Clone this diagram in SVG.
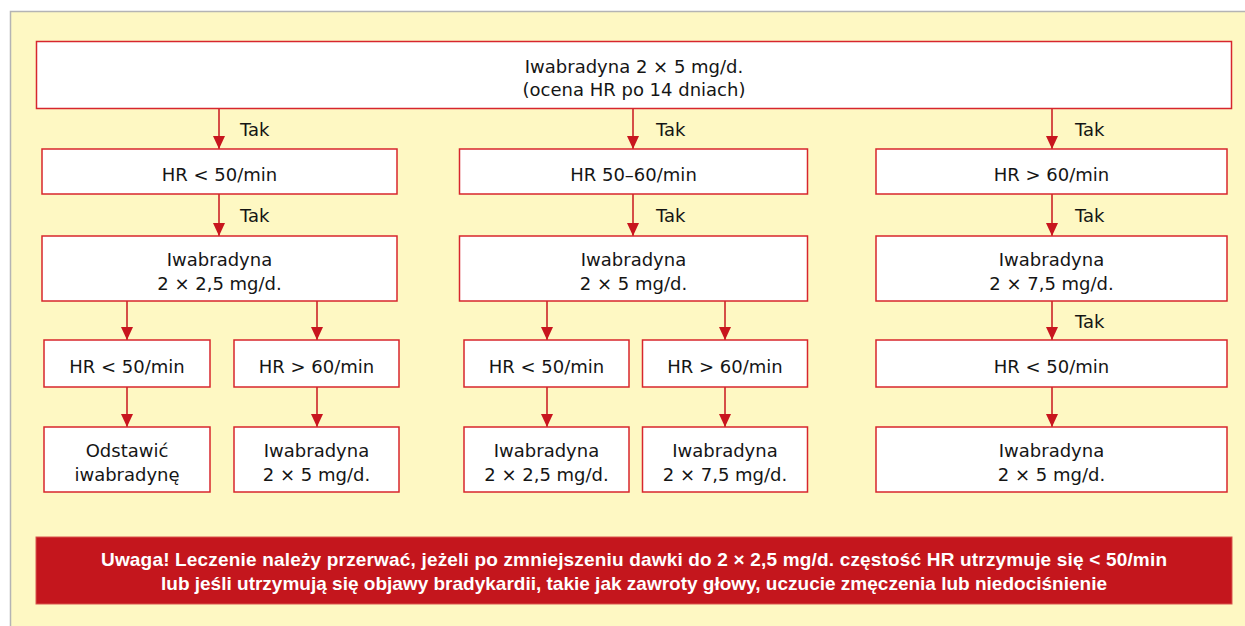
<svg xmlns="http://www.w3.org/2000/svg" width="1245" height="626" viewBox="0 0 1245 626">
<defs>
<style>
.box{fill:#ffffff;stroke:#d7262d;stroke-width:1.5}
.t{font-family:"DejaVu Sans","Liberation Sans",sans-serif;font-size:18px;fill:#151515;text-anchor:middle}
.tak{font-family:"DejaVu Sans","Liberation Sans",sans-serif;font-size:18px;fill:#151515}
.warn{font-family:"Liberation Sans","DejaVu Sans",sans-serif;font-size:19px;font-weight:bold;fill:#ffffff;text-anchor:middle}
.ln{stroke:#c8161e;stroke-width:1.5;fill:none;marker-end:url(#ah)}
</style>
<marker id="ah" viewBox="0 0 13 12" refX="13" refY="6" markerWidth="13" markerHeight="12" markerUnits="userSpaceOnUse" orient="auto">
<path d="M0,0 L13,6 L0,12 Z" fill="#c8161e"/>
</marker>
</defs>
<rect x="0" y="0" width="1245" height="626" fill="#ffffff"/>
<rect x="10.5" y="11.5" width="1250" height="630" fill="#fef8c3" stroke="#b4b4b4" stroke-width="1.5"/>

<g id="connectors">
<line class="ln" x1="219" y1="108" x2="219" y2="149"/>
<line class="ln" x1="633" y1="108" x2="633" y2="149"/>
<line class="ln" x1="1052" y1="108" x2="1052" y2="149"/>
<line class="ln" x1="219" y1="194" x2="219" y2="236"/>
<line class="ln" x1="633" y1="194" x2="633" y2="236"/>
<line class="ln" x1="1052" y1="194" x2="1052" y2="236"/>
<line class="ln" x1="127" y1="301" x2="127" y2="340"/>
<line class="ln" x1="317" y1="301" x2="317" y2="340"/>
<line class="ln" x1="547" y1="301" x2="547" y2="340"/>
<line class="ln" x1="725" y1="301" x2="725" y2="340"/>
<line class="ln" x1="1052" y1="301" x2="1052" y2="340"/>
<line class="ln" x1="127" y1="387" x2="127" y2="427"/>
<line class="ln" x1="317" y1="387" x2="317" y2="427"/>
<line class="ln" x1="547" y1="387" x2="547" y2="427"/>
<line class="ln" x1="725" y1="387" x2="725" y2="427"/>
<line class="ln" x1="1052" y1="387" x2="1052" y2="427"/>
<text class="tak" x="240" y="136">Tak</text>
<text class="tak" x="656" y="136">Tak</text>
<text class="tak" x="1075" y="136">Tak</text>
<text class="tak" x="240" y="222">Tak</text>
<text class="tak" x="656" y="222">Tak</text>
<text class="tak" x="1075" y="222">Tak</text>
<text class="tak" x="1075" y="328">Tak</text>
</g>

<g id="start">
<rect class="box" x="36.5" y="41.5" width="1195" height="67"/>
<text class="t" x="634" y="73">Iwabradyna 2 × 5 mg/d.</text>
<text class="t" x="634" y="96">(ocena HR po 14 dniach)</text>
</g>

<g id="hr-low">
<rect class="box" x="42" y="149" width="355" height="45"/>
<text class="t" x="219.5" y="181">HR &lt; 50/min</text>
</g>
<g id="hr-mid">
<rect class="box" x="459.5" y="149" width="348" height="45"/>
<text class="t" x="633.5" y="181">HR 50–60/min</text>
</g>
<g id="hr-high">
<rect class="box" x="876" y="149" width="351" height="45"/>
<text class="t" x="1051.5" y="181">HR &gt; 60/min</text>
</g>

<g id="dose-low">
<rect class="box" x="42" y="236" width="355" height="65"/>
<text class="t" x="219.5" y="266">Iwabradyna</text>
<text class="t" x="219.5" y="290">2 × 2,5 mg/d.</text>
</g>
<g id="dose-mid">
<rect class="box" x="459.5" y="236" width="348" height="65"/>
<text class="t" x="633.5" y="266">Iwabradyna</text>
<text class="t" x="633.5" y="290">2 × 5 mg/d.</text>
</g>
<g id="dose-high">
<rect class="box" x="876" y="236" width="351" height="65"/>
<text class="t" x="1051.5" y="266">Iwabradyna</text>
<text class="t" x="1051.5" y="290">2 × 7,5 mg/d.</text>
</g>

<g id="low-hr-low">
<rect class="box" x="44" y="340" width="166" height="47"/>
<text class="t" x="127" y="373">HR &lt; 50/min</text>
</g>
<g id="low-hr-high">
<rect class="box" x="234" y="340" width="165" height="47"/>
<text class="t" x="316.5" y="373">HR &gt; 60/min</text>
</g>
<g id="mid-hr-low">
<rect class="box" x="464" y="340" width="165" height="47"/>
<text class="t" x="546.5" y="373">HR &lt; 50/min</text>
</g>
<g id="mid-hr-high">
<rect class="box" x="642.5" y="340" width="165" height="47"/>
<text class="t" x="725" y="373">HR &gt; 60/min</text>
</g>
<g id="high-hr-low">
<rect class="box" x="876" y="340" width="351" height="47"/>
<text class="t" x="1051.5" y="373">HR &lt; 50/min</text>
</g>

<g id="stop">
<rect class="box" x="44" y="427" width="166" height="65"/>
<text class="t" x="127" y="457">Odstawić</text>
<text class="t" x="127" y="481">iwabradynę</text>
</g>
<g id="low-result">
<rect class="box" x="234" y="427" width="165" height="65"/>
<text class="t" x="316.5" y="457">Iwabradyna</text>
<text class="t" x="316.5" y="481">2 × 5 mg/d.</text>
</g>
<g id="mid-result-low">
<rect class="box" x="464" y="427" width="165" height="65"/>
<text class="t" x="546.5" y="457">Iwabradyna</text>
<text class="t" x="546.5" y="481">2 × 2,5 mg/d.</text>
</g>
<g id="mid-result-high">
<rect class="box" x="642.5" y="427" width="165" height="65"/>
<text class="t" x="725" y="457">Iwabradyna</text>
<text class="t" x="725" y="481">2 × 7,5 mg/d.</text>
</g>
<g id="high-result">
<rect class="box" x="876" y="427" width="351" height="65"/>
<text class="t" x="1051.5" y="457">Iwabradyna</text>
<text class="t" x="1051.5" y="481">2 × 5 mg/d.</text>
</g>

<g id="warning">
<rect x="36" y="537" width="1196" height="67" fill="#c4161d" stroke="#d9544f" stroke-width="1"/>
<text class="warn" x="634" y="566" textLength="1066" lengthAdjust="spacing">Uwaga! Leczenie należy przerwać, jeżeli po zmniejszeniu dawki do 2 × 2,5 mg/d. częstość HR utrzymuje się &lt; 50/min</text>
<text class="warn" x="634" y="590" textLength="946" lengthAdjust="spacing">lub jeśli utrzymują się objawy bradykardii, takie jak zawroty głowy, uczucie zmęczenia lub niedociśnienie</text>
</g>
</svg>
